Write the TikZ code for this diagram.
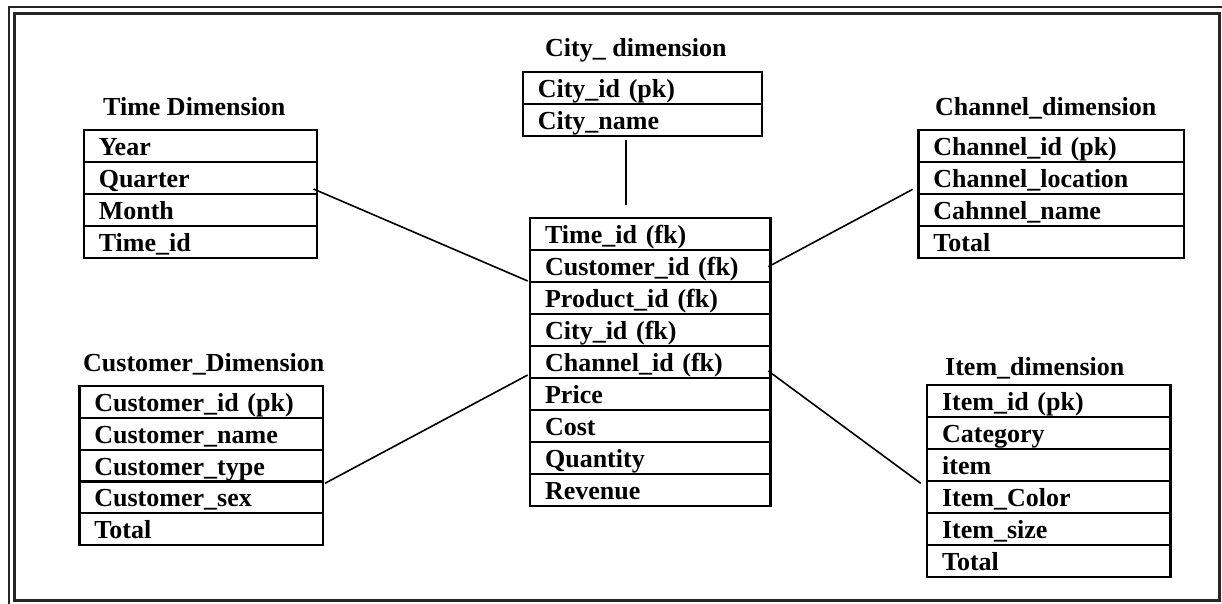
\documentclass[tikz,border=0pt]{standalone}
\usepackage{fontspec}
\setmainfont{Liberation Serif}
\tikzset{
  rowbox/.style={draw, line width=2.2pt, inner xsep=15pt, inner ysep=0pt, anchor=north west, align=left},
  ttl/.style={anchor=base west, inner sep=0pt},
  conn/.style={line width=1.6pt},
  frame/.style={line width=3pt, draw=black!85},
  frameouter/.style={line width=2pt, draw=black!85}
}
\newcommand\dimtab[6]{%
  \pgfmathsetmacro\rowtxth{#5-6.5}%
  \pgfmathsetmacro\rowtxtw{#4-30}%
  \foreach \t [count=\i] in {#6}{%
    \node[rowbox, minimum height=#5pt, text height=\rowtxth pt, text depth=6.5pt, text width=\rowtxtw pt]
      (#1-\i) at (#2, {#3+(\i-1)*#5}) {\t};
  }%
}
\begin{document}
\begin{tikzpicture}[x=1pt, y=-1pt, font=\fontsize{26}{30}\selectfont\bfseries]
\useasboundingbox (0,0) rectangle (1222,604);
% frame
\draw[frame] (14,14) rectangle (1219,600);
\draw[frameouter] (1222,7.5) -- (8.5,7.5) -- (8.5,604);

% titles
\node[ttl] (tCity) at (545,57) {City\_ dimension};
\node[ttl] (tTime) at (103,116) {Time Dimension};
\node[ttl] (tChan) at (935,116) {Channel\_dimension};
\node[ttl] (tCust) at (83,371) {Customer\_Dimension};
\node[ttl] (tItem) at (945,375) {Item\_dimension};

% tables
\dimtab{city}{521.7}{70.7}{239}{32.15}{City\_id (pk),City\_name}
\dimtab{time}{82.7}{129.3}{233.3}{31.85}{Year,Quarter,Month,Time\_id}
\dimtab{chan}{917.3}{129.3}{265.4}{31.85}{Channel\_id (pk),Channel\_location,Cahnnel\_name,Total}
\dimtab{fact}{529}{216.7}{240.3}{32.03}{Time\_id (fk),Customer\_id (fk),Product\_id (fk),City\_id (fk),Channel\_id (fk),Price,Cost,Quantity,Revenue}
\dimtab{cust}{78.3}{385}{243.4}{31.8}{Customer\_id (pk),Customer\_name,Customer\_type,Customer\_sex,Total}
\dimtab{item}{926}{384}{243.3}{32}{Item\_id (pk),Category,item,Item\_Color,Item\_size,Total}

% connector end points
\coordinate (cityEnd) at (626,140);
\coordinate (factTop) at (626,205);
\coordinate (timeEnd) at (313.5,189);
\coordinate (factTime) at (527.7,281);
\coordinate (chanEnd) at (912.7,189.3);
\coordinate (factChan) at (768.3,266.7);
\coordinate (custEnd) at (325,483.3);
\coordinate (factCust) at (527.7,375);
\coordinate (itemEnd) at (920.7,483.3);
\coordinate (factItem) at (768.3,371);

\draw[conn] (cityEnd) -- (factTop);
\draw[conn] (timeEnd) -- (factTime);
\draw[conn] (factChan) -- (chanEnd);
\draw[conn] (custEnd) -- (factCust);
\draw[conn] (factItem) -- (itemEnd);
\end{tikzpicture}
\end{document}
